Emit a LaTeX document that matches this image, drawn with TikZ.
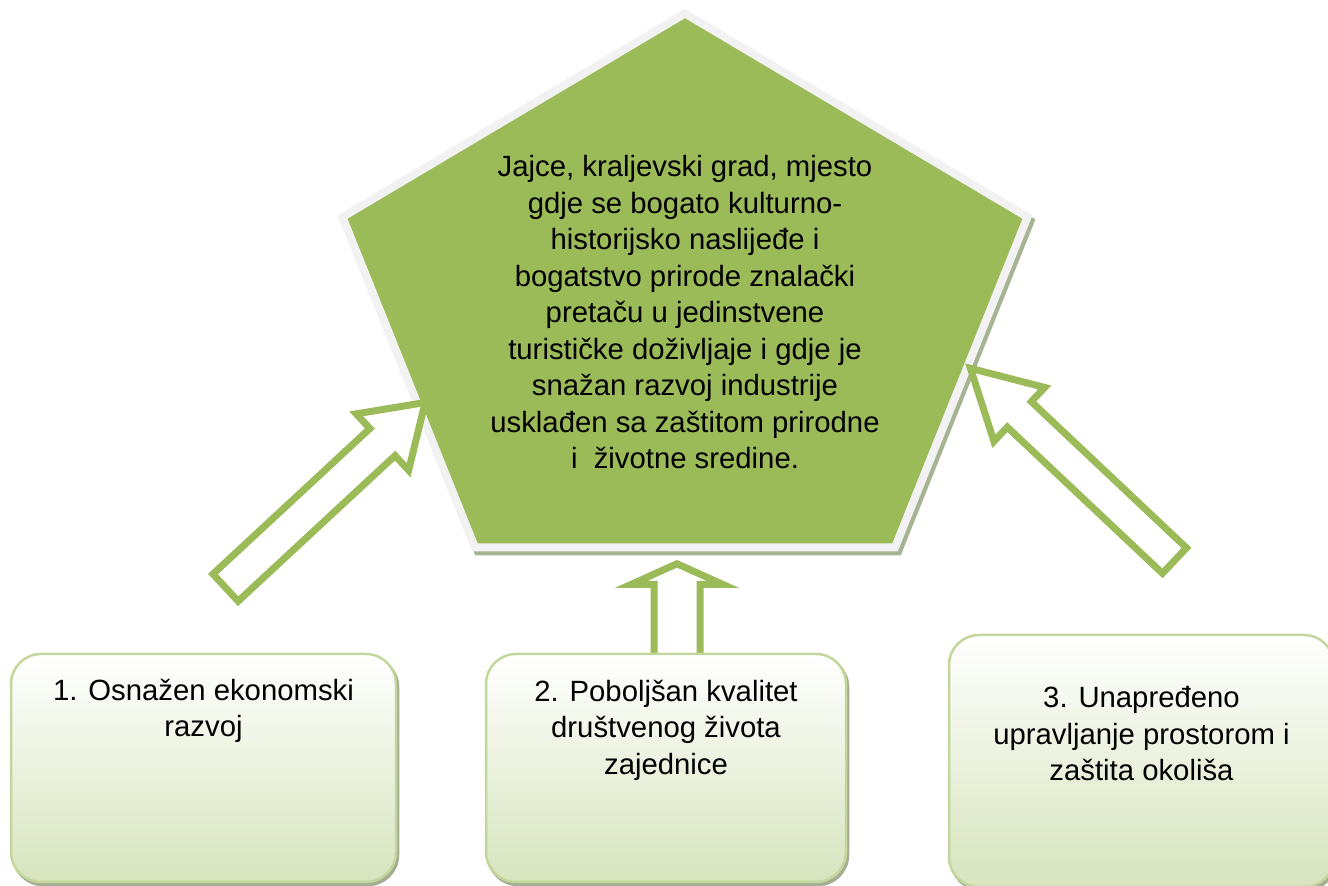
\documentclass[tikz,border=0pt]{standalone}
\usepackage{fontspec}
\setmainfont{Liberation Sans}
\usetikzlibrary{calc}
\definecolor{pgreen}{HTML}{9BBB59}
\definecolor{pborder}{HTML}{F2F2F2}
\definecolor{pshadow}{HTML}{A6B494}
\definecolor{bborder}{HTML}{C3D69B}
\definecolor{bbottom}{HTML}{D7E4BD}
\definecolor{bshadow}{HTML}{A3AE93}
\tikzset{
  txt/.style={font=\fontsize{29.3}{36.5}\selectfont, align=center, inner sep=0pt, anchor=north, text=black},
  boxbase/.style={rectangle, rounded corners=30pt, line width=2.5pt},
  box/.style={boxbase, draw=bborder, top color=white, bottom color=bbottom},
  boxshadow/.style={boxbase, draw=bshadow, fill=bshadow},
  blockarrow/.style={draw=pgreen, line width=7pt, fill=white, line join=miter},
  pentashadow/.style={draw=pshadow, fill=pshadow, line width=8pt, line join=miter},
  penta/.style={draw=pborder, fill=pgreen, line width=8pt, line join=miter}
}
\begin{document}
\begin{tikzpicture}[x=1pt,y=1pt]
\useasboundingbox (0,0) rectangle (1328,886);

% pentagon
\coordinate (pT) at (685,872.5);
\coordinate (pL) at (342.5,669);
\coordinate (pBL) at (475,338.5);
\coordinate (pBR) at (895,338.5);
\coordinate (pR) at (1027.5,669);
\draw[pentashadow] ([shift={(3,-4)}]pT) -- ([shift={(3,-4)}]pL) -- ([shift={(3,-4)}]pBL) -- ([shift={(3,-4)}]pBR) -- ([shift={(3,-4)}]pR) -- cycle;
\draw[penta] (pT) -- (pL) -- (pBL) -- (pBR) -- (pR) -- cycle;
\node[txt] (vision) at (685,730.5) {Jajce, kraljevski grad, mjesto\\gdje se bogato kulturno-\\historijsko naslijeđe i\\bogatstvo prirode znalački\\pretaču u jedinstvene\\turističke doživljaje i gdje je\\snažan razvoj industrije\\usklađen sa zaštitom prirodne\\i\ \ životne sredine.};

% arrow 2 (behind box 2)
\coordinate (a2) at (677,229);
\begin{scope}[shift={(a2)}, rotate=90]
  \draw[blockarrow] (0,-23) -- (72.5,-23) -- (72.5,-46) -- (93.2,0) -- (72.5,46) -- (72.5,23) -- (0,23) -- cycle;
\end{scope}

% boxes
\node[boxshadow, minimum width=385pt, minimum height=228pt] at (205.5,115) {};
\node[box, minimum width=385pt, minimum height=228pt] (b1) at (203.5,118) {};
\node[boxshadow, minimum width=360pt, minimum height=228pt] at (668,115) {};
\node[box, minimum width=360pt, minimum height=228pt] (b2) at (666,118) {};
\node[boxshadow, minimum width=385pt, minimum height=252pt] at (1143.5,122) {};
\node[box, minimum width=385pt, minimum height=252pt] (b3) at (1141.5,125) {};

\node[txt] (t1) at (203.5,207.5) {1. Osnažen ekonomski\\razvoj};
\node[txt] (t2) at (666,206.5) {2. Poboljšan kvalitet\\društvenog života\\zajednice};
\node[txt] (t3) at (1141.5,199.5) {3. Unapređeno\\upravljanje prostorom i\\zaštita okoliša};

% arrow 1
\coordinate (a1) at (223,296);
\begin{scope}[shift={(a1)}, rotate=42.85]
  \draw[blockarrow] (3.5,-18.5) -- (217.5,-18.5) -- (217.5,-38.5) -- (275.7,0) -- (217.5,38.5) -- (217.5,18.5) -- (3.5,18.5) -- cycle;
\end{scope}

% arrow 3
\coordinate (a3) at (1177,323);
\begin{scope}[shift={(a3)}, rotate=136.7]
  \draw[blockarrow] (3.5,-17.5) -- (216.7,-17.5) -- (216.7,-37) -- (283.8,0) -- (216.7,37) -- (216.7,17.5) -- (3.5,17.5) -- cycle;
\end{scope}
\end{tikzpicture}
\end{document}
